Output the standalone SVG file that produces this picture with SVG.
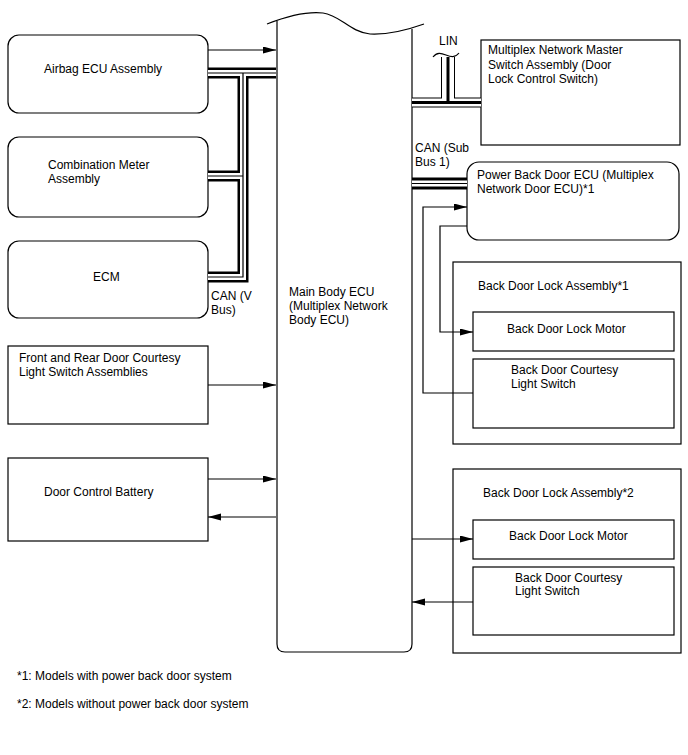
<svg xmlns="http://www.w3.org/2000/svg" width="688" height="755" viewBox="0 0 688 755">
<defs>
<marker id="ah" markerUnits="userSpaceOnUse" markerWidth="14" markerHeight="8" refX="13" refY="3.5" orient="auto">
<path d="M0,0 L13,3.5 L0,7 z" fill="#000"/>
</marker>
<style>
text{font-family:"Liberation Sans",Arial,sans-serif;font-size:12px;fill:#000}
.box{fill:none;stroke:#000;stroke-width:1.2}
.ln{fill:none;stroke:#000;stroke-width:1.2}
.ar{fill:none;stroke:#000;stroke-width:1.2;marker-end:url(#ah)}
.cb{fill:none;stroke:#000;stroke-width:11}
.cw{fill:none;stroke:#fff;stroke-width:6}
.cc{fill:none;stroke:#000;stroke-width:1.2}
</style>
</defs>
<rect width="688" height="755" fill="#fff"/>

<g id="main-ecu">
<path class="ln" d="M277,21 V644 Q277,652 285,652 H404 Q412,652 412,644 V29"/>
<path class="ln" d="M267,24 C285,17 305,11 323,13 C340,15 350,32 370,34 C390,35 410,29 424,24"/>
<text x="289" y="296">Main Body ECU</text>
<text x="289" y="310">(Multiplex Network</text>
<text x="289" y="324">Body ECU)</text>
</g>

<g id="airbag">
<rect class="box" x="8" y="35" width="200" height="78" rx="11"/>
<text x="44" y="73">Airbag ECU Assembly</text>
</g>
<g id="combination-meter">
<rect class="box" x="8" y="137" width="200" height="80" rx="11"/>
<text x="48" y="169">Combination Meter</text>
<text x="48" y="183">Assembly</text>
</g>
<g id="ecm">
<rect class="box" x="8" y="241" width="200" height="77" rx="11"/>
<text x="93" y="281">ECM</text>
</g>
<g id="can-v-label">
<text x="211" y="300">CAN (V</text>
<text x="211" y="314">Bus)</text>
</g>
<g id="front-rear-courtesy">
<rect class="box" x="8" y="346" width="200" height="78"/>
<text x="19" y="362">Front and Rear Door Courtesy</text>
<text x="19" y="376">Light Switch Assemblies</text>
</g>
<g id="door-control-battery">
<rect class="box" x="8" y="458" width="200" height="83"/>
<text x="44" y="496">Door Control Battery</text>
</g>

<g id="lin-label"><text x="439" y="45">LIN</text></g>
<g id="master-switch">
<rect class="box" x="481" y="40" width="199" height="105"/>
<text x="488" y="54">Multiplex Network Master</text>
<text x="488" y="68.5">Switch Assembly (Door</text>
<text x="488" y="83">Lock Control Switch)</text>
</g>
<g id="can-sub-label">
<text x="415" y="152">CAN (Sub</text>
<text x="415" y="166">Bus 1)</text>
</g>
<g id="power-back-door-ecu">
<rect class="box" x="467" y="162" width="212" height="78" rx="12"/>
<text x="477" y="179">Power Back Door ECU (Multiplex</text>
<text x="477" y="193">Network Door ECU)*1</text>
</g>
<g id="lock-assy-1">
<rect class="box" x="453" y="262" width="228" height="182"/>
<text x="478" y="290">Back Door Lock Assembly*1</text>
</g>
<g id="lock-motor-1">
<rect class="box" x="473" y="312" width="201" height="39"/>
<text x="507" y="333">Back Door Lock Motor</text>
</g>
<g id="courtesy-1">
<rect class="box" x="473" y="359" width="201" height="69"/>
<text x="511" y="374">Back Door Courtesy</text>
<text x="511" y="388">Light Switch</text>
</g>
<g id="lock-assy-2">
<rect class="box" x="453" y="469" width="228" height="184"/>
<text x="483" y="497">Back Door Lock Assembly*2</text>
</g>
<g id="lock-motor-2">
<rect class="box" x="473" y="520" width="201" height="39"/>
<text x="509" y="540">Back Door Lock Motor</text>
</g>
<g id="courtesy-2">
<rect class="box" x="473" y="567" width="201" height="68"/>
<text x="515" y="582">Back Door Courtesy</text>
<text x="515" y="595">Light Switch</text>
</g>

<g id="footnotes">
<text x="17" y="680">*1: Models with power back door system</text>
<text x="17" y="708">*2: Models without power back door system</text>
</g>

<g id="connectors">
<g id="can-v">
<path class="cb" d="M208,73 H276"/>
<path class="cb" d="M243,73 V277 H208"/>
<path class="cb" d="M208,176 H243"/>
<path class="cw" d="M208,73 H276"/>
<path class="cw" d="M243,73 V277 H208"/>
<path class="cw" d="M208,176 H243"/>
<path class="cc" d="M208,73 H276"/>
<path class="cc" d="M243,73 V277 H208"/>
<path class="cc" d="M208,176 H243"/>
</g>
<g id="can-sub">
<path fill="none" stroke="#000" stroke-width="12" d="M412,183.5 H467"/>
<path fill="none" stroke="#fff" stroke-width="6" d="M412,183.5 H467"/>
<path class="cc" d="M412,183.5 H467"/>
</g>
<g id="lin">
<path fill="none" stroke="#000" stroke-width="14" d="M448,57 V102.5"/>
<path fill="none" stroke="#000" stroke-width="10" d="M412,102.5 H481"/>
<path fill="none" stroke="#fff" stroke-width="12" d="M448,57 V102.5"/>
<path fill="none" stroke="#fff" stroke-width="8" d="M412,102.5 H481"/>
<path fill="none" stroke="#000" stroke-width="3" d="M448,57 V102.5"/>
<path fill="none" stroke="#000" stroke-width="3" d="M412,102.5 H481"/>
<path class="ln" d="M433,57 C437,52 441,53 446,55 C451,57 455,58 459,53"/>
</g>
<path class="ar" d="M208,50 H276"/>
<path class="ar" d="M208,385 H276"/>
<path class="ar" d="M208,479 H276"/>
<path class="ar" d="M276,517 H208"/>
<path class="ar" d="M473,393 H423 V207 H467"/>
<path class="ar" d="M467,226 H440 V332 H473"/>
<path class="ar" d="M412,539 H473"/>
<path class="ar" d="M473,602 H412"/>
</g>
</svg>
